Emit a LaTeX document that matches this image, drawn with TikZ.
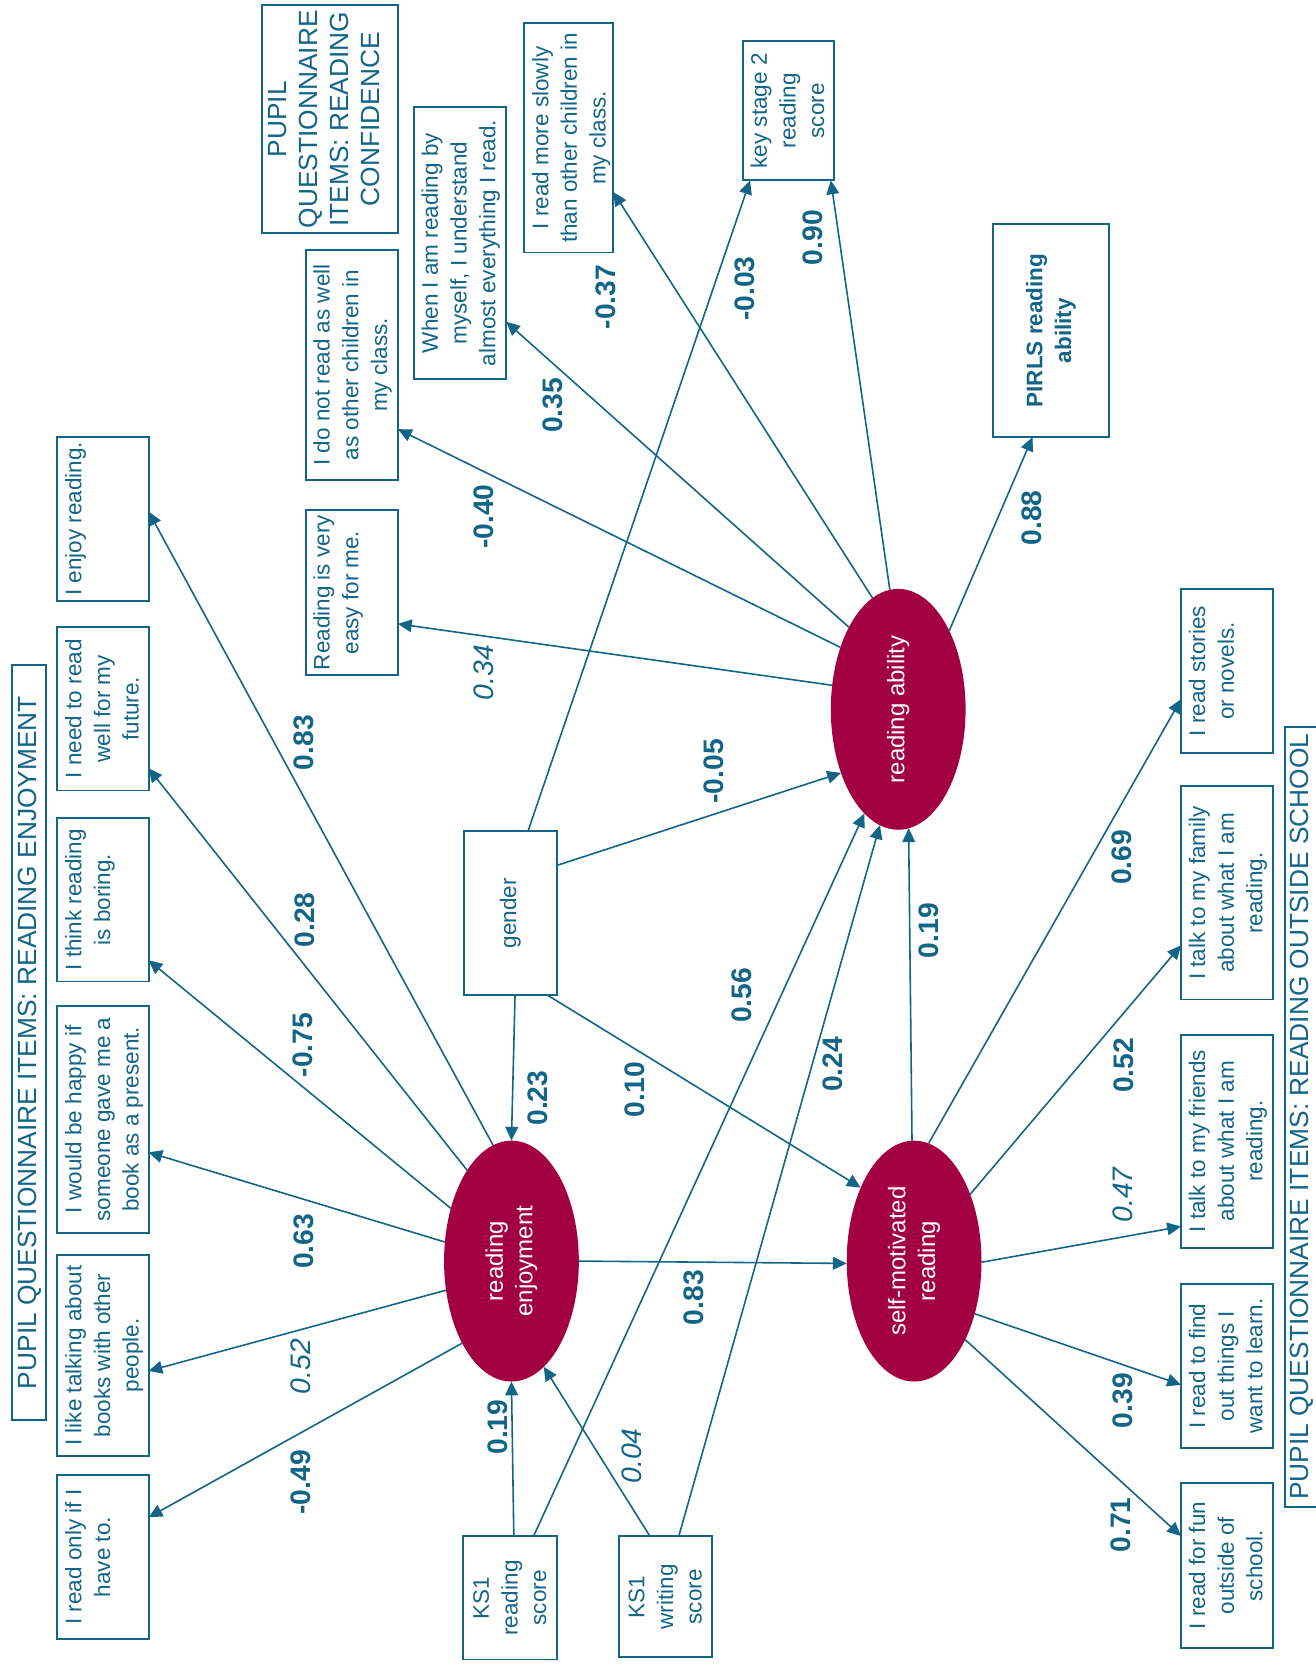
\documentclass[tikz,border=0pt]{standalone}
\usepackage{fontspec}
\setmainfont{Liberation Sans}
\usetikzlibrary{arrows.meta,calc,shapes.geometric}
\definecolor{pblue}{RGB}{18,101,134}
\definecolor{pcrim}{RGB}{163,0,68}
\begin{document}
\begin{tikzpicture}[x=0.5pt,y=-0.5pt,
  box/.style={draw=pblue, line width=0.9pt, rectangle, inner sep=0pt, outer sep=0pt},
  txt/.style={rotate=90, text=pblue, align=center, inner sep=0pt, font=\fontsize{10.6}{13.5}\selectfont},
  ttl/.style={rotate=90, text=pblue, align=center, inner sep=0pt, font=\fontsize{12.4}{14.5}\selectfont},
  etxt/.style={rotate=90, text=white, align=center, inner sep=0pt, font=\fontsize{11.3}{14}\selectfont},
  lat/.style={ellipse, fill=pcrim, draw=none, inner sep=0pt, outer sep=0pt, minimum width=63.5pt, minimum height=113.5pt},
  arr/.style={draw=pblue, line width=0.75pt, -{Triangle[length=6.5pt,width=6pt]}},
  lab/.style={rotate=90, text=pblue, inner sep=0pt, font=\fontsize{13.3}{16}\selectfont\bfseries},
  labi/.style={rotate=90, text=pblue, inner sep=0pt, font=\fontsize{13.3}{16}\selectfont\itshape}
]
\useasboundingbox (0,0) rectangle (1240,1572);

% ---------- latent variables ----------
\node[lat] (RA) at (846.5,668.5) {};
\node[lat] (RE) at (482,1188.5) {};
\node[lat] (SM) at (861.5,1188.5) {};
\node[etxt] (RAt) at (RA) {reading ability};
\node[etxt] (REt) at (RE) {reading\\enjoyment};
\node[etxt] (SMt) at (SM) {self-motivated\\reading};

% ---------- title boxes ----------
\node[box, minimum width=16pt, minimum height=355.5pt] (tE) at (27,982.5) {};
\node[ttl] (tEt) at (28,982.5) {PUPIL QUESTIONNAIRE ITEMS: READING ENJOYMENT};
\node[box, minimum width=64pt, minimum height=107.5pt] (tC) at (311,112.5) {};
\node[ttl, anchor=north] (tCt) at ($(tC.west)+(6,0)$) {PUPIL\\QUESTIONNAIRE\\ITEMS: READING\\CONFIDENCE};
\node[box, minimum width=18pt, minimum height=367.5pt] (tO) at (1229,1052.5) {};
\node[ttl] (tOt) at (1227,1052.5) {PUPIL QUESTIONNAIRE ITEMS: READING OUTSIDE SCHOOL};

% ---------- enjoyment items ----------
\node[box, minimum width=43pt, minimum height=77pt] (e1) at (97,489) {};
\node[txt, anchor=north] (e1t) at ($(e1.west)+(7,0)$) {I enjoy reading.};
\node[box, minimum width=43pt, minimum height=77pt] (e2) at (97,668) {};
\node[txt, anchor=north] (e2t) at ($(e2.west)+(7,0)$) {I need to read\\well for my\\future.};
\node[box, minimum width=43pt, minimum height=77pt] (e3) at (97,848) {};
\node[txt, anchor=north] (e3t) at ($(e3.west)+(7,0)$) {I think reading\\is boring.};
\node[box, minimum width=43pt, minimum height=107pt] (e4) at (97,1055) {};
\node[txt, anchor=north] (e4t) at ($(e4.west)+(7,0)$) {I would be happy if\\someone gave me a\\book as a present.};
\node[box, minimum width=43pt, minimum height=94.5pt] (e5) at (97,1277.5) {};
\node[txt, anchor=north] (e5t) at ($(e5.west)+(7,0)$) {I like talking about\\books with other\\people.};
\node[box, minimum width=43pt, minimum height=77.5pt] (e6) at (97,1467.5) {};
\node[txt, anchor=north] (e6t) at ($(e6.west)+(7,0)$) {I read only if I\\have to.};

% ---------- confidence items ----------
\node[box, minimum width=43.5pt, minimum height=77.5pt] (c1) at (331.5,558.5) {};
\node[txt, anchor=north] (c1t) at ($(c1.west)+(7,0)$) {Reading is very\\easy for me.};
\node[box, minimum width=43.5pt, minimum height=108pt] (c2) at (331.5,344) {};
\node[txt, anchor=north] (c2t) at ($(c2.west)+(7,0)$) {I do not read as well\\as other children in\\my class.};
\node[box, minimum width=43.5pt, minimum height=128pt] (c3) at (433.5,229) {};
\node[txt, anchor=north] (c3t) at ($(c3.west)+(7,0)$) {When I am reading by\\myself, I understand\\almost everything I read.};
\node[box, minimum width=42pt, minimum height=108pt] (c4) at (536,130) {};
\node[txt, anchor=north] (c4t) at ($(c4.west)+(7,0)$) {I read more slowly\\than other children in\\my class.};
\node[box, minimum width=43pt, minimum height=65.5pt] (ks2) at (743,104.5) {};
\node[txt, anchor=north] (ks2t) at ($(ks2.west)+(7,0)$) {key stage 2\\reading\\score};
\node[box, minimum width=54.5pt, minimum height=100.5pt] (pirls) at (990.5,311.5) {};
\node[txt, font=\fontsize{10.6}{13.5}\selectfont\bfseries] (pirlst) at (pirls) {PIRLS reading\\ability};

% ---------- observed predictors ----------
\node[box, minimum width=44pt, minimum height=77.5pt] (gender) at (481,860.5) {};
\node[txt] (gendert) at (gender) {gender};
\node[box, minimum width=44.5pt, minimum height=58pt] (ks1r) at (480.5,1506) {};
\node[txt] (ks1rt) at (ks1r) {KS1\\reading\\score};
\node[box, minimum width=44pt, minimum height=57pt] (ks1w) at (627,1505) {};
\node[txt] (ks1wt) at (ks1w) {KS1\\writing\\score};

% ---------- outside-school items ----------
\node[box, minimum width=43.5pt, minimum height=77.5pt] (o1) at (1156.5,632.5) {};
\node[txt, anchor=north] (o1t) at ($(o1.west)+(7,0)$) {I read stories\\or novels.};
\node[box, minimum width=43.5pt, minimum height=100.5pt] (o2) at (1156.5,841.5) {};
\node[txt, anchor=north] (o2t) at ($(o2.west)+(7,0)$) {I talk to my family\\about what I am\\reading.};
\node[box, minimum width=43.5pt, minimum height=100.5pt] (o3) at (1156.5,1075.5) {};
\node[txt, anchor=north] (o3t) at ($(o3.west)+(7,0)$) {I talk to my friends\\about what I am\\reading.};
\node[box, minimum width=43.5pt, minimum height=77.5pt] (o4) at (1156.5,1287.5) {};
\node[txt, anchor=north] (o4t) at ($(o4.west)+(7,0)$) {I read to find\\out things I\\want to learn.};
\node[box, minimum width=43.5pt, minimum height=77.5pt] (o5) at (1156.5,1475.5) {};
\node[txt, anchor=north] (o5t) at ($(o5.west)+(7,0)$) {I read for fun\\outside of\\school.};

% ---------- connectors: reading enjoyment -> items ----------
\draw[arr] (RE.99)  -- ($(e1.north east)!0.455!(e1.south east)$);
\draw[arr] (RE.116) -- ($(e2.north east)!0.864!(e2.south east)$);
\draw[arr] (RE.139) -- ($(e3.north east)!0.87!(e3.south east)$);
\draw[arr] (RE.164) -- ($(e4.north east)!0.645!(e4.south east)$);
\draw[arr] (RE.204) -- ($(e5.north east)!0.577!(e5.south east)$);
\draw[arr] (RE.239) -- ($(e6.north east)!0.258!(e6.south east)$);

% ---------- reading ability -> items ----------
\draw[arr] (RA.160) -- ($(c1.north east)!0.69!(c1.south east)$);
\draw[arr] (RA.133) -- ($(c2.north east)!0.78!(c2.south east)$);
\draw[arr] (RA.121) -- ($(c3.north east)!0.79!(c3.south east)$);
\draw[arr] (RA.103) -- ($(c4.north east)!0.736!(c4.south east)$);
\draw[arr] (RA.94)  -- ($(ks2.south west)!0.965!(ks2.south east)$);
\draw[arr] (RA.57)  -- ($(pirls.south west)!0.34!(pirls.south east)$);

% ---------- gender ----------
\draw[arr] ($(gender.north west)!0.69!(gender.north east)$) -- ($(ks2.south west)!0.08!(ks2.south east)$);
\draw[arr] ($(gender.north east)!0.21!(gender.south east)$) -- (RA.228);
\draw[arr] ($(gender.south west)!0.55!(gender.south east)$) -- (RE.90);
\draw[arr] ($(gender.south west)!0.9!(gender.south east)$) -- (SM.126);

% ---------- KS1 ----------
\draw[arr] ($(ks1r.north west)!0.542!(ks1r.north east)$) -- (RE.270);
\draw[arr] ($(ks1r.north west)!0.75!(ks1r.north east)$) -- (RA.252);
\draw[arr] ($(ks1w.north west)!0.337!(ks1w.north east)$) -- (RE.287);
\draw[arr] ($(ks1w.north west)!0.644!(ks1w.north east)$) -- (RA.261);

% ---------- latent paths ----------
\draw[arr] (RE.0) -- (SM.182);
\draw[arr] (SM.91) -- (RA.275);

% ---------- self-motivated reading -> items ----------
\draw[arr] (SM.83)  -- ($(o1.north west)!0.671!(o1.south west)$);
\draw[arr] (SM.50)  -- ($(o2.north west)!0.746!(o2.south west)$);
\draw[arr] (SM.359) -- ($(o3.north west)!0.9!(o3.south west)$);
\draw[arr] (SM.319) -- ($(o4.north west)!0.613!(o4.south west)$);
\draw[arr] (SM.303) -- ($(o5.north west)!0.32!(o5.south west)$);

% ---------- coefficients ----------
\node[lab]  (l1)  at (286,700)  {0.83};
\node[lab]  (l2)  at (287,867)  {0.28};
\node[lab]  (l3)  at (285,985)  {-0.75};
\node[lab]  (l4)  at (286,1170) {0.63};
\node[labi] (l5)  at (283,1288) {0.52};
\node[lab]  (l6)  at (283,1397) {-0.49};
\node[labi] (l7)  at (456,634)  {0.34};
\node[lab]  (l8)  at (456,487)  {-0.40};
\node[lab]  (l9)  at (521,382)  {0.35};
\node[lab]  (l10) at (571,280)  {-0.37};
\node[lab]  (l11) at (702,272)  {-0.03};
\node[lab]  (l12) at (766,224)  {0.90};
\node[lab]  (l13) at (972,488)  {0.88};
\node[lab]  (l14) at (673,727)  {-0.05};
\node[lab]  (l15) at (699,938)  {0.56};
\node[lab]  (l16) at (785,1003) {0.24};
\node[lab]  (l17) at (875,877)  {0.19};
\node[lab]  (l18) at (507,1035) {0.23};
\node[lab]  (l19) at (598,1027) {0.10};
\node[lab]  (l20) at (654,1223) {0.83};
\node[lab]  (l21) at (469,1345) {0.19};
\node[labi] (l22) at (595,1372) {0.04};
\node[lab]  (l23) at (1057,808)  {0.69};
\node[lab]  (l24) at (1059,1004) {0.52};
\node[labi] (l25) at (1058,1126) {0.47};
\node[lab]  (l26) at (1058,1320) {0.39};
\node[lab]  (l27) at (1056,1437) {0.71};
\end{tikzpicture}
\end{document}
